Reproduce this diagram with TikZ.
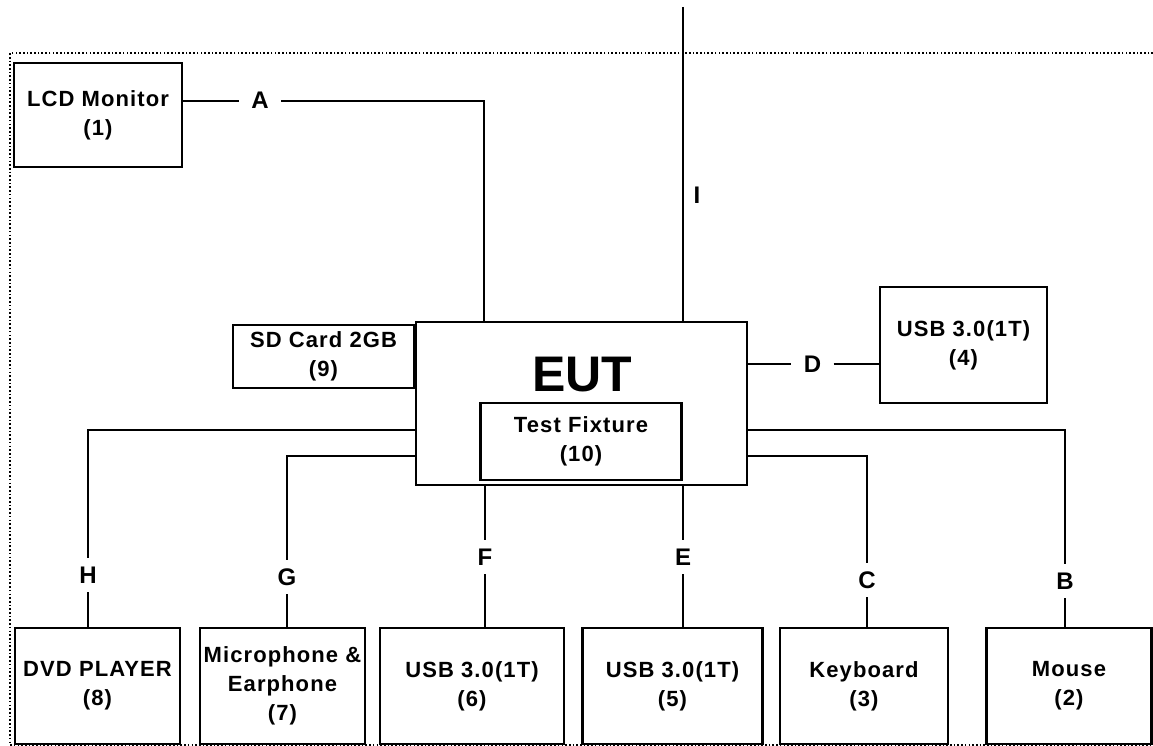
\documentclass[tikz,border=0pt]{standalone}
\usepackage{fontspec}
\setmainfont{Liberation Sans}[LetterSpace=5]
\newfontfamily\plainsans{Liberation Sans}
\newcommand\lbl{\fontsize{22}{29}\selectfont\bfseries}
\newcommand\tagfont{\fontsize{24}{29}\selectfont\bfseries}
\begin{document}
\begin{tikzpicture}[x=1pt, y=-1pt,
  box/.style={draw, line width=2.5pt, fill=white, align=center, font=\lbl, inner sep=0pt},
  conn/.style={line width=2.1pt},
  tag/.style={minimum width=42pt, minimum height=34pt, inner sep=0pt, font=\tagfont},
  border/.style={line width=1.8pt, dash pattern=on 1.6pt off 2.1pt}]
\useasboundingbox (0,0) rectangle (1153,746);
% dotted enclosure
\draw[border] (1153,53) -- (10,53) -- (10,745) -- (1153,745);
% boxes
\node[box, minimum width=168pt, minimum height=104pt] (lcd) at (98,115) {LCD Monitor\\(1)};
\node[box, minimum width=181pt, minimum height=63pt] (sd) at (323.5,356.5) {SD Card 2GB\\(9)};
\node[box, minimum width=331pt, minimum height=163pt] (eut) at (581.5,403.5) {};
\node[inner sep=0pt] (euttxt) at (582,375) {\plainsans\bfseries\fontsize{50}{60}\selectfont EUT};
\node[box, minimum width=201pt, minimum height=77pt] (fix) at (581,441.5) {Test Fixture\\(10)};
\node[box, minimum width=167pt, minimum height=116pt] (usb4) at (963.5,345) {USB 3.0(1T)\\(4)};
\node[box, minimum width=165pt, minimum height=116pt] (dvd) at (97.5,686) {DVD PLAYER\\(8)};
\node[box, minimum width=165pt, minimum height=116pt] (mic) at (282.5,686) {Microphone \&\\Earphone\\(7)};
\node[box, minimum width=184pt, minimum height=116pt] (usb6) at (472,686) {USB 3.0(1T)\\(6)};
\node[box, minimum width=180pt, minimum height=116pt] (usb5) at (672.5,686) {USB 3.0(1T)\\(5)};
\node[box, minimum width=168pt, minimum height=116pt] (kbd) at (864,686) {Keyboard\\(3)};
\node[box, minimum width=165pt, minimum height=116pt] (mouse) at (1069,686) {Mouse\\(2)};
% cable labels
\node[tag] (lA) at (260,100.7) {A};
\node[tag] (lD) at (812.5,364) {D};
\node[tag] (lH) at (88,575) {H};
\node[tag] (lG) at (287,577) {G};
\node[tag] (lF) at (485,557) {F};
\node[tag] (lE) at (683,557) {E};
\node[tag] (lC) at (867,580) {C};
\node[tag] (lB) at (1065,581) {B};
\node[inner sep=0pt, font=\tagfont] (lI) at (697,195) {I};
% helper coordinates
\coordinate (aBend) at (484,100.7);
\coordinate (iTop) at (683,7);
\coordinate (yHB) at (0,430);
\coordinate (yGC) at (0,456);
% connectors
\draw[conn] (lcd.east |- lA) -- (lA);
\draw[conn] (lA) -- (aBend) -- (aBend |- eut.north);
\draw[conn] (iTop) -- (iTop |- eut.north);
\draw[conn] (eut.east |- lD) -- (lD);
\draw[conn] (lD) -- (usb4.west |- lD);
\draw[conn] (eut.west |- yHB) -| (lH);
\draw[conn] (lH) -- (lH |- dvd.north);
\draw[conn] (eut.west |- yGC) -| (lG);
\draw[conn] (lG) -- (lG |- mic.north);
\draw[conn] (lF |- eut.south) -- (lF);
\draw[conn] (lF) -- (lF |- usb6.north);
\draw[conn] (lE |- eut.south) -- (lE);
\draw[conn] (lE) -- (lE |- usb5.north);
\draw[conn] (eut.east |- yGC) -| (lC);
\draw[conn] (lC) -- (lC |- kbd.north);
\draw[conn] (eut.east |- yHB) -| (lB);
\draw[conn] (lB) -- (lB |- mouse.north);
\end{tikzpicture}
\end{document}
